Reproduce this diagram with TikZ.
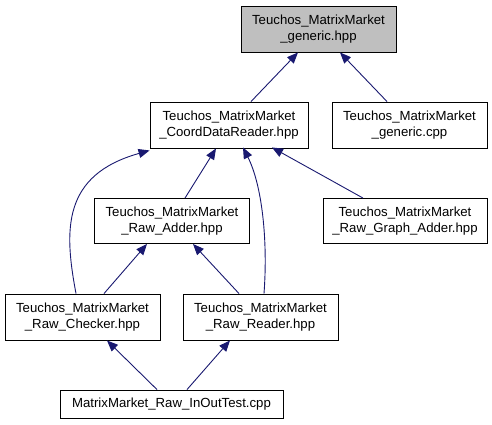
\documentclass[tikz,border=0pt]{standalone}
\usepackage{fontspec}
\setmainfont{Liberation Sans}
\usetikzlibrary{arrows.meta}
\definecolor{edgeblue}{RGB}{25,25,112}
\definecolor{hilite}{RGB}{191,191,191}
\begin{document}
\begin{tikzpicture}[x=1pt,y=-1pt,
  box/.style={draw=black,line width=0.9pt,fill=white,inner sep=0pt,align=center,
    font=\fontsize{13.2}{15.6}\selectfont},
  dep/.style={draw=edgeblue,line width=0.9pt,{Triangle[length=11pt,width=9pt,fill=edgeblue]}-}]
\useasboundingbox (0,0) rectangle (492,424);
\node[box,fill=hilite,minimum width=155pt,minimum height=46pt] (A) at (318.5,29) {Teuchos\_MatrixMarket\\\_generic.hpp};
\node[box,minimum width=158pt,minimum height=46pt] (B) at (229,125) {Teuchos\_MatrixMarket\\\_CoordDataReader.hpp};
\node[box,minimum width=155pt,minimum height=46pt] (C) at (409.5,125) {Teuchos\_MatrixMarket\\\_generic.cpp};
\node[box,minimum width=155pt,minimum height=45pt] (D) at (172,221) {Teuchos\_MatrixMarket\\\_Raw\_Adder.hpp};
\node[box,minimum width=164pt,minimum height=45pt] (E) at (405,221) {Teuchos\_MatrixMarket\\\_Raw\_Graph\_Adder.hpp};
\node[box,minimum width=155pt,minimum height=46pt] (F) at (82.5,317) {Teuchos\_MatrixMarket\\\_Raw\_Checker.hpp};
\node[box,minimum width=155pt,minimum height=46pt] (G) at (260.5,317) {Teuchos\_MatrixMarket\\\_Raw\_Reader.hpp};
\node[box,minimum width=223pt,minimum height=28pt] (H) at (171.5,404) {MatrixMarket\_Raw\_InOutTest.cpp};
% edges (arrow at the included file)
\draw[dep] ([xshift=-20.5pt]A.south) -- ([xshift=22pt]B.north);
\draw[dep] ([xshift=21.5pt]A.south) -- ([xshift=-22.5pt]C.north);
\draw[dep] ([xshift=-13pt]B.south) -- ([xshift=13pt]D.north);
\draw[dep] ([xshift=43pt,yshift=1pt]B.south) -- ([xshift=-42pt]E.north);
\draw[dep] ([yshift=-2pt]B.south west) .. controls (62,175) and (64,230) .. ([xshift=-6.5pt]F.north);
\draw[dep] ([xshift=14pt,yshift=1pt]B.south) .. controls (262,185) and (268,240) .. ([xshift=3.5pt]G.north);
\draw[dep] ([xshift=-25pt]D.south) -- ([xshift=21.5pt]F.north);
\draw[dep] ([xshift=21pt]D.south) -- ([xshift=-21.5pt]G.north);
\draw[dep] ([xshift=24.5pt]F.south) -- ([xshift=-14.5pt]H.north);
\draw[dep] ([xshift=-30.5pt]G.south) -- ([xshift=15.5pt]H.north);
\end{tikzpicture}
\end{document}
